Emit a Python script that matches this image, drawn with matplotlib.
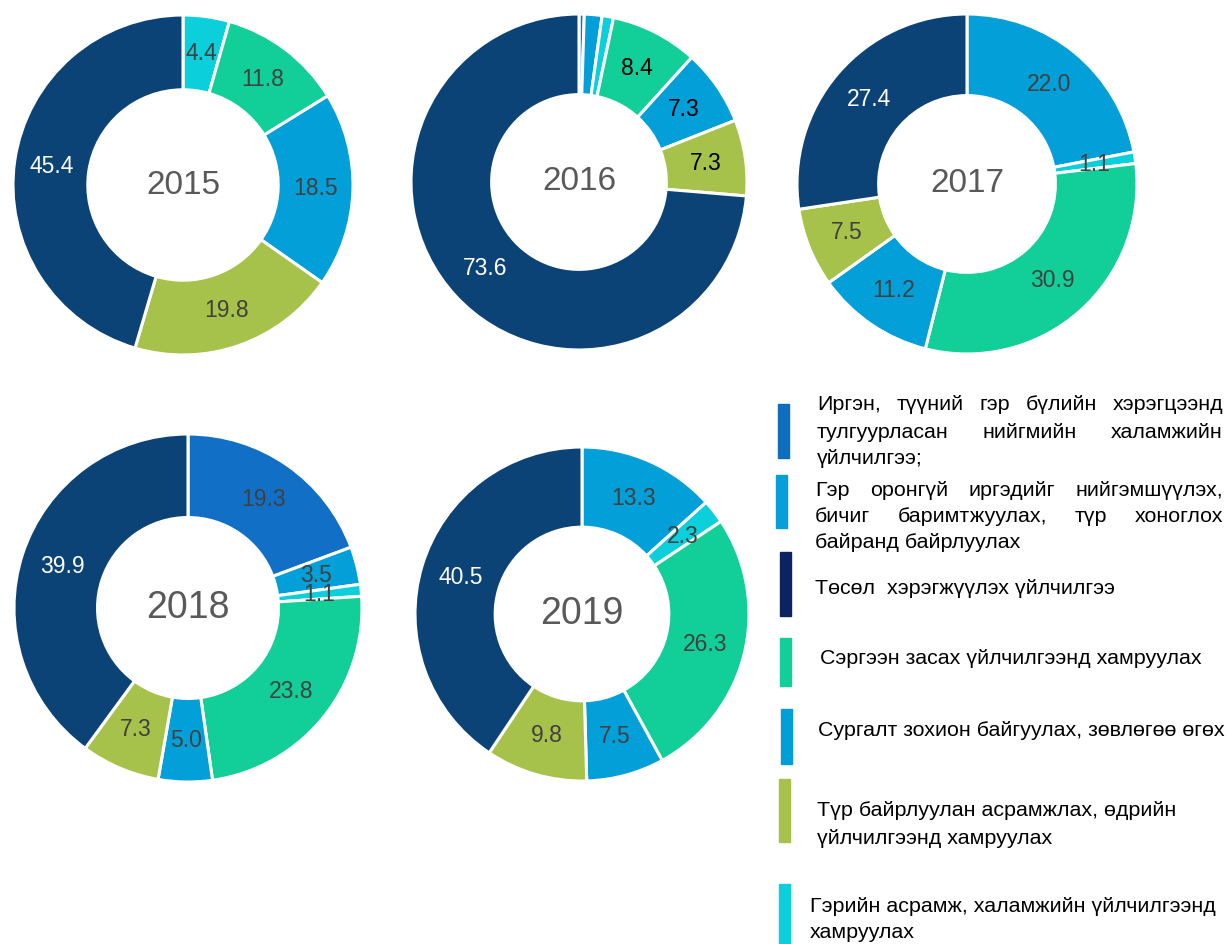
import matplotlib
matplotlib.use('Agg')
import matplotlib.pyplot as plt
import numpy as np
from matplotlib.patches import Rectangle

plt.rcParams['font.family'] = ['Liberation Sans', 'DejaVu Sans']

# data: slice values (clockwise from 12 o'clock) and category of each slice
years = ['2015', '2016', '2017', '2018', '2019']
v2015 = [4.4, 11.8, 18.5, 19.8, 45.4]
k2015 = [7, 4, 5, 6, 3]
v2016 = [0.5, 1.7, 1.1, 8.4, 7.3, 7.3, 73.6]
k2016 = [1, 2, 7, 4, 5, 6, 3]
v2017 = [22.0, 1.1, 30.9, 11.2, 7.5, 27.4]
k2017 = [5, 7, 4, 2, 6, 3]
v2018 = [19.3, 3.5, 1.1, 23.8, 5.0, 7.3, 39.9]
k2018 = [1, 2, 7, 4, 5, 6, 3]
v2019 = [13.3, 2.3, 26.3, 7.5, 9.8, 40.5]
k2019 = [5, 7, 4, 2, 6, 3]
hidden2016 = [0.5, 1.7, 1.1]   # too thin to carry a label

slice_colors = {1: '#1170C6', 2: '#039FD9', 3: '#0C4377', 4: '#12CF9A',
                5: '#039FD9', 6: '#A7C24A', 7: '#0BCFDA'}
legend_colors = ['#0F6DC0', '#069FDA', '#0B2361', '#12CF9A', '#029ED8',
                 '#A6C24B', '#0BCFDA']
legend_lines = [
    ['Иргэн, түүний гэр бүлийн хэрэгцээнд', 'тулгуурласан нийгмийн халамжийн', 'үйлчилгээ;'],
    ['Гэр оронгүй иргэдийг нийгэмшүүлэх,', 'бичиг баримтжуулах, түр хоноглох', 'байранд байрлуулах'],
    ['Төсөл  хэрэгжүүлэх үйлчилгээ'],
    ['Сэргээн засах үйлчилгээнд хамруулах'],
    ['Сургалт зохион байгуулах, зөвлөгөө өгөх'],
    ['Түр байрлуулан асрамжлах, өдрийн', 'үйлчилгээнд хамруулах'],
    ['Гэрийн асрамж, халамжийн үйлчилгээнд', 'хамруулах'],
]
legend_justified = [True, True, False, False, False, False, False]

W, H = 1228, 944
fig = plt.figure(figsize=(W / 100, H / 100), dpi=100)

# donut placement in pixels: centre x, centre y, outer radius, ring width, year font size
donuts = [
    (183, 185, 170, 0.44, 24),
    (579, 182, 168, 0.48, 24),
    (967, 184, 170, 0.48, 24),
    (188, 608, 174, 0.48, 27),
    (582, 614, 167, 0.48, 27),
]
values = [v2015, v2016, v2017, v2018, v2019]
kinds = [k2015, k2016, k2017, k2018, k2019]

for i, (cx, cy, R, wd, ysize) in enumerate(donuts):
    ax = fig.add_axes([(cx - R) / W, 1 - (cy + R) / H, 2 * R / W, 2 * R / H])
    vals = values[i]
    cols = [slice_colors[k] for k in kinds[i]]
    wedges, _ = ax.pie(vals, colors=cols, startangle=90, counterclock=False,
                       wedgeprops=dict(width=wd, edgecolor='white', linewidth=2.2))
    ax.set_xlim(-1, 1)
    ax.set_ylim(-1, 1)
    r = 1 - wd / 2
    for j, (w, v) in enumerate(zip(wedges, vals)):
        if i == 1 and j < len(hidden2016):
            continue
        ang = np.deg2rad((w.theta1 + w.theta2) / 2)
        if kinds[i][j] == 3:
            tc = 'white'
        elif i == 1:
            tc = 'black'
        else:
            tc = '#404040'
        ax.text(r * np.cos(ang), r * np.sin(ang), f'{v:.1f}', ha='center',
                va='center', fontsize=16.5, color=tc)
    ax.text(0, 0, years[i], ha='center', va='center', fontsize=ysize, color='#595959')

# legend drawn on a full-figure overlay in pixel units
lg = fig.add_axes([0, 0, 1, 1])
lg.set_xlim(0, W)
lg.set_ylim(H, 0)
lg.axis('off')
renderer = fig.canvas.get_renderer()

bars = [(778, 404, 458), (776, 475, 528), (780, 552, 616), (780, 638, 686),
        (781, 709, 764), (779, 779, 842), (779, 884, 944)]
text_x = [817, 815, 815, 820, 818, 817, 810]
line_y = [[403, 430, 457], [488, 515, 541], [587], [657], [729], [808, 836], [905, 931]]
right_edge = 1223
fs = 15.4

for n in range(len(legend_lines)):
    bx, y0, y1 = bars[n]
    lg.add_patch(Rectangle((bx, y0), 11, y1 - y0, color=legend_colors[n]))
    lines = legend_lines[n]
    for m, line in enumerate(lines):
        y = line_y[n][m] + 7.5
        last = m == len(lines) - 1
        if legend_justified[n] and not last:
            words = line.split()
            arts = [lg.text(0, y, wd_, fontsize=fs, color='black', va='baseline')
                    for wd_ in words]
            widths = [a.get_window_extent(renderer).width for a in arts]
            gap = (right_edge - text_x[n] - sum(widths)) / (len(words) - 1)
            pos = text_x[n]
            for a, ww in zip(arts, widths):
                a.set_x(pos)
                pos += ww + gap
        else:
            lg.text(text_x[n], y, line, fontsize=fs, color='black', va='baseline')

fig.savefig('out.png', dpi=100)
